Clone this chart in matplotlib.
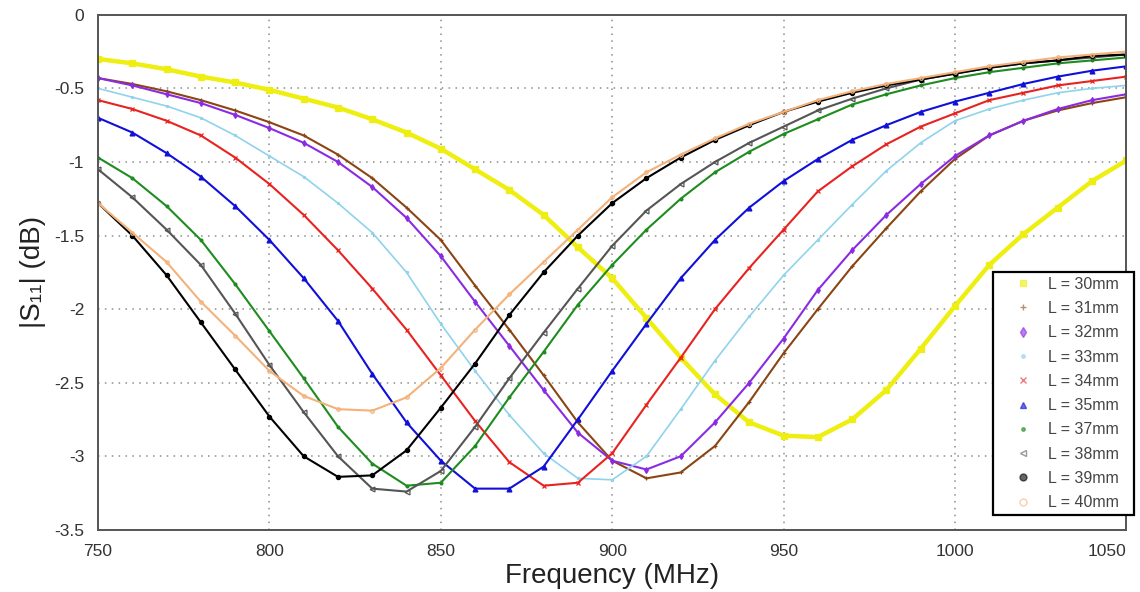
import matplotlib
matplotlib.use("Agg")
import matplotlib.pyplot as plt
from matplotlib.lines import Line2D
from matplotlib.ticker import FuncFormatter

plt.rcParams['font.family'] = ['Liberation Sans', 'DejaVu Sans']
plt.rcParams['axes.unicode_minus'] = False

# Frequency grid (MHz) shared by every sweep
freq = [750, 760, 770, 780, 790, 800, 810, 820, 830, 840, 850,
        860, 870, 880, 890, 900, 910, 920, 930, 940, 950,
        960, 970, 980, 990, 1000, 1010, 1020, 1030, 1040, 1050]

# |S11| (dB) for each patch length L
s11_30 = [-0.30, -0.33, -0.37, -0.42, -0.46, -0.51, -0.57, -0.63, -0.71, -0.80, -0.91,
          -1.05, -1.19, -1.36, -1.58, -1.79, -2.06, -2.33, -2.58, -2.77, -2.86,
          -2.87, -2.75, -2.55, -2.27, -1.98, -1.70, -1.49, -1.31, -1.13, -0.99]
s11_31 = [-0.43, -0.47, -0.52, -0.58, -0.65, -0.73, -0.82, -0.95, -1.11, -1.31, -1.53,
          -1.84, -2.14, -2.45, -2.77, -3.03, -3.15, -3.11, -2.93, -2.63, -2.30,
          -2.00, -1.71, -1.45, -1.20, -0.98, -0.82, -0.72, -0.65, -0.60, -0.56]
s11_32 = [-0.43, -0.48, -0.54, -0.60, -0.68, -0.77, -0.87, -1.00, -1.17, -1.38, -1.64,
          -1.95, -2.25, -2.55, -2.84, -3.03, -3.09, -3.00, -2.77, -2.50, -2.20,
          -1.87, -1.60, -1.36, -1.15, -0.96, -0.82, -0.72, -0.64, -0.58, -0.54]
s11_33 = [-0.50, -0.56, -0.62, -0.70, -0.82, -0.96, -1.10, -1.28, -1.48, -1.75, -2.10,
          -2.42, -2.72, -2.98, -3.15, -3.16, -3.00, -2.68, -2.35, -2.05, -1.77,
          -1.53, -1.29, -1.06, -0.87, -0.72, -0.64, -0.58, -0.53, -0.50, -0.48]
s11_34 = [-0.58, -0.64, -0.72, -0.82, -0.97, -1.15, -1.36, -1.60, -1.86, -2.14, -2.45,
          -2.76, -3.04, -3.20, -3.18, -2.98, -2.65, -2.33, -2.00, -1.72, -1.46,
          -1.20, -1.03, -0.88, -0.76, -0.67, -0.58, -0.53, -0.48, -0.45, -0.42]
s11_35 = [-0.70, -0.80, -0.94, -1.10, -1.30, -1.53, -1.79, -2.08, -2.44, -2.77, -3.03,
          -3.22, -3.22, -3.07, -2.75, -2.42, -2.10, -1.79, -1.53, -1.31, -1.13,
          -0.98, -0.85, -0.75, -0.66, -0.59, -0.53, -0.47, -0.42, -0.38, -0.35]
s11_37 = [-0.97, -1.11, -1.30, -1.53, -1.83, -2.15, -2.47, -2.80, -3.05, -3.20, -3.18,
          -2.93, -2.60, -2.29, -1.97, -1.70, -1.46, -1.25, -1.07, -0.93, -0.81,
          -0.71, -0.61, -0.54, -0.48, -0.43, -0.39, -0.36, -0.33, -0.31, -0.29]
s11_38 = [-1.05, -1.24, -1.46, -1.70, -2.03, -2.38, -2.70, -3.00, -3.22, -3.24, -3.10,
          -2.80, -2.47, -2.16, -1.86, -1.57, -1.33, -1.15, -1.00, -0.87, -0.76,
          -0.65, -0.57, -0.50, -0.44, -0.40, -0.36, -0.33, -0.31, -0.29, -0.27]
s11_39 = [-1.28, -1.50, -1.77, -2.09, -2.41, -2.73, -3.00, -3.14, -3.13, -2.96, -2.67,
          -2.37, -2.04, -1.75, -1.50, -1.28, -1.11, -0.97, -0.85, -0.75, -0.66,
          -0.59, -0.53, -0.48, -0.44, -0.40, -0.36, -0.33, -0.31, -0.28, -0.27]
s11_40 = [-1.28, -1.48, -1.68, -1.95, -2.18, -2.42, -2.59, -2.68, -2.69, -2.60, -2.40,
          -2.14, -1.90, -1.68, -1.46, -1.24, -1.07, -0.95, -0.84, -0.74, -0.66,
          -0.58, -0.52, -0.47, -0.43, -0.39, -0.35, -0.32, -0.29, -0.27, -0.25]

labels = ['L = 30mm', 'L = 31mm', 'L = 32mm', 'L = 33mm', 'L = 34mm',
          'L = 35mm', 'L = 37mm', 'L = 38mm', 'L = 39mm', 'L = 40mm']
series = [s11_30, s11_31, s11_32, s11_33, s11_34,
          s11_35, s11_37, s11_38, s11_39, s11_40]

# (color, marker, filled, linewidth, markersize)
styles = [
    ('#eeee10', 's', True, 3.2, 4.0),
    ('#8b4513', '+', True, 1.5, 3.5),
    ('#8a2be2', 'd', True, 1.5, 3.0),
    ('#8fd3ec', '.', True, 1.2, 3.0),
    ('#e8231f', 'x', True, 1.5, 2.5),
    ('#1010d8', '^', True, 1.5, 3.5),
    ('#1e8c1e', '.', True, 1.5, 4.0),
    ('#555555', '<', False, 1.5, 3.5),
    ('#000000', 'o', True, 1.5, 3.0),
    ('#f4b27a', 'o', False, 1.5, 2.5),
]

fig = plt.figure(figsize=(11.4, 5.92), dpi=100)
ax = fig.add_axes([0.086, 0.105, 0.902, 0.87])

handles = []
for y, lab, (col, mk, filled, lw, ms) in zip(series, labels, styles):
    mfc = col if filled else 'none'
    ax.plot(freq, y, color=col, lw=lw, marker=mk, markersize=ms,
            markerfacecolor=mfc, markeredgecolor=col, markeredgewidth=0.9)
    handles.append(Line2D([], [], ls='none', marker=mk, color=col,
                          markersize=5, markerfacecolor=mfc,
                          markeredgecolor=col, alpha=0.6))

ax.set_xlim(750, 1050)
ax.set_ylim(-3.5, 0)
ax.set_xticks(range(750, 1051, 50))
ax.set_yticks([0, -0.5, -1, -1.5, -2, -2.5, -3, -3.5])
ax.yaxis.set_major_formatter(FuncFormatter(lambda v, p: '%g' % v))
ax.tick_params(length=0, labelsize=12.5, labelcolor='#333333', pad=10)
fig.canvas.draw()
ax.get_xticklabels()[-1].set_horizontalalignment('right')

ax.grid(True, color='#8c8c8c', linestyle=(0, (1, 3.5)), linewidth=1.1)
for sp in ax.spines.values():
    sp.set_color('#555555')
    sp.set_linewidth(1.4)

ax.set_xlabel('Frequency (MHz)', fontsize=20, color='#222222', labelpad=3)
ax.set_ylabel('|S\u2081\u2081| (dB)', fontsize=20, color='#222222', labelpad=6)

leg = ax.legend(handles, labels, loc='upper left',
                bbox_to_anchor=(993 / 1140, 1 - 272 / 592 - 0.01, (1134 - 993) / 1140, 0.01),
                bbox_transform=fig.transFigure, mode='expand',
                fontsize=11.5, labelspacing=0.58, handlelength=3.1,
                handletextpad=0.05, borderpad=0.3, borderaxespad=0,
                fancybox=False, framealpha=1, edgecolor='black')
leg.get_frame().set_linewidth(1.6)
for t in leg.get_texts():
    t.set_color('#444444')

fig.savefig('out.png', dpi=100)
